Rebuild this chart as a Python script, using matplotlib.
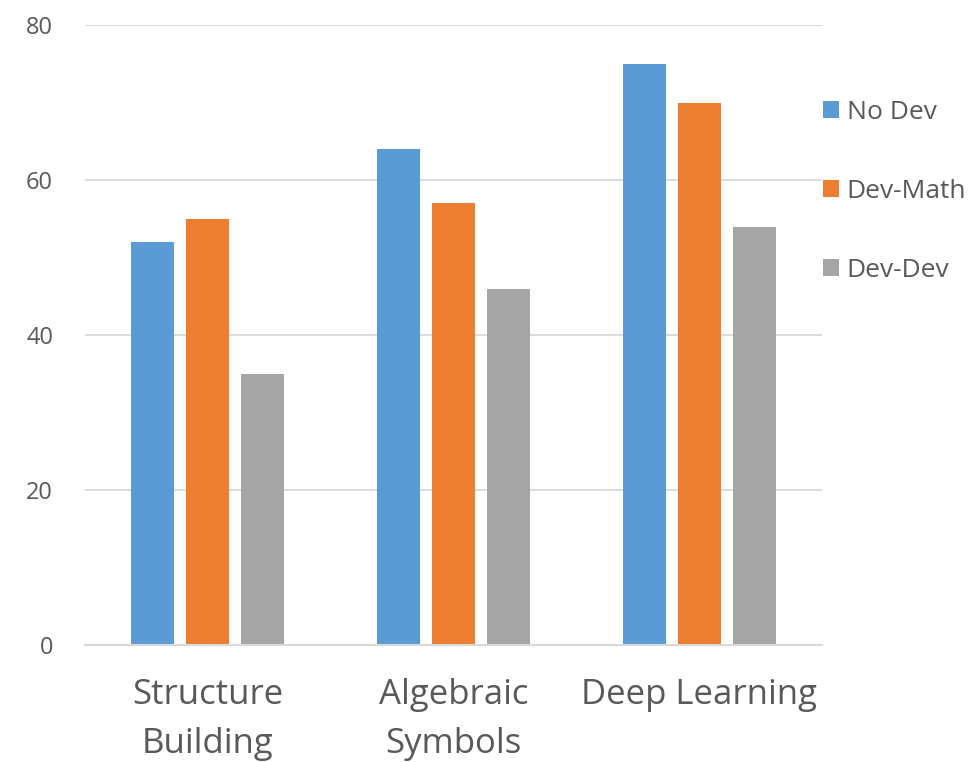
import matplotlib
matplotlib.use("Agg")
import matplotlib.pyplot as plt
import numpy as np

categories = ["Structure\nBuilding", "Algebraic\nSymbols", "Deep Learning"]
series_names = ["No Dev", "Dev-Math", "Dev-Dev"]
no_dev = [52, 64, 75]
dev_math = [55, 57, 70]
dev_dev = [35, 46, 54]
y_ticks = [0, 20, 40, 60, 80]

colors = ["#5B9BD5", "#ED7D31", "#A5A5A5"]
text_color = "#595959"
grid_color = "#D9D9D9"

plt.rcParams["font.family"] = ["Open Sans", "DejaVu Sans"]

fig = plt.figure(figsize=(9.72, 7.62), dpi=100)
ax = fig.add_axes([85 / 972, 1 - 645 / 762, (822 - 85) / 972, (645 - 25) / 762])

x = np.arange(len(categories))
width = 0.175
step = 0.224
for i, (vals, name) in enumerate(zip([no_dev, dev_math, dev_dev], series_names)):
    ax.bar(x + (i - 1) * step, vals, width, color=colors[i], label=name, zorder=3)

ax.set_xlim(-0.5, len(categories) - 0.5)
ax.set_ylim(0, 80)
ax.set_yticks(y_ticks)
ax.set_yticklabels([str(t) for t in y_ticks])
ax.grid(axis="y", color=grid_color, linewidth=1.3, zorder=0)
for s in ["top", "right", "left"]:
    ax.spines[s].set_visible(False)
ax.spines["bottom"].set_color(grid_color)
ax.spines["bottom"].set_linewidth(1.5)
ax.spines["bottom"].set_zorder(4)

ax.tick_params(axis="y", length=0, pad=23, labelsize=17, labelcolor=text_color)
ax.tick_params(axis="x", length=0, pad=24, labelsize=25, labelcolor=text_color)
ax.set_xticks(x)
ax.set_xticklabels(categories, linespacing=1.58)

handles, labels = ax.get_legend_handles_labels()
leg = fig.legend(handles, labels, loc="upper left", bbox_to_anchor=(812 / 972, 1 - 89 / 762),
                 frameon=False, fontsize=19, handlelength=0.62, handleheight=0.62,
                 handletextpad=0.3, labelspacing=2.05, borderaxespad=0)
for t in leg.get_texts():
    t.set_color(text_color)

fig.savefig("out.png", dpi=100)
